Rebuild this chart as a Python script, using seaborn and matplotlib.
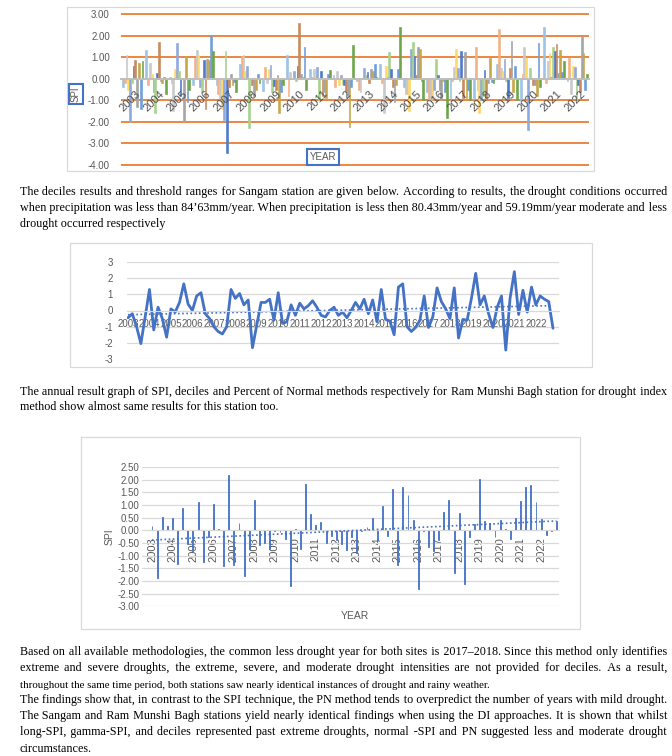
import numpy as np
import pandas as pd
import matplotlib
matplotlib.use("Agg")
import matplotlib.pyplot as plt
import seaborn as sns

W, H = 672, 756

years = [str(y) for y in range(2003, 2023)]
months = ["Jan", "Feb", "Mar", "Apr", "May", "Jun",
          "Jul", "Aug", "Sep", "Oct", "Nov", "Dec"]
month_colors = ["#9DC3E6", "#F4B183", "#C9C9C9", "#FFD966", "#8FAADC", "#A9D18E",
                "#4F7BC8", "#C98A5E", "#A5A5A5", "#C7A64A", "#6F9FD8", "#6FA64C"]

# Sangam station, monthly SPI (one row per year, Jan..Dec)
sangam_monthly = [
    [-0.4, -0.2, 1.1, -0.5, -2.0, -0.2, 0.6, 0.85, -1.3, 0.75, -1.4, 0.8],    # 2003
    [1.35, -0.3, 0.75, 0.2, -0.6, -1.6, 0.25, 1.7, -0.1, -0.2, 0.1, -0.7],    # 2004
    [0.1, -0.2, -1.5, 0.45, 1.65, 0.35, -0.8, 0.05, -1.95, 1.05, -1.1, -0.5],  # 2005
    [-0.3, 0.95, 1.35, 1.1, -0.4, -0.6, 0.85, -1.4, 0.9, 0.85, 2.0, 1.3],     # 2006
    [-0.3, -0.7, -0.9, -1.4, -1.9, 1.3, -3.45, -0.4, 0.2, -0.3, -0.15, -0.6],  # 2007
    [0.7, 1.05, 1.1, 0.35, 0.6, -2.3, 0.05, -0.3, -0.8, -0.5, 0.2, -0.2],     # 2008
    [-0.55, 0.55, -0.2, 0.45, 0.65, -0.6, -0.35, -0.5, 0.15, -1.6, -0.6, -0.3],  # 2009
    [1.1, -0.8, 0.3, 0.05, 0.35, -0.1, 0.6, 2.6, 0.2, 0.1, 1.45, -0.5],       # 2010
    [0.45, 0.1, 0.45, 0.25, 0.55, -1.0, 0.35, -0.8, -0.6, -0.9, 0.2, 0.4],    # 2011
    [0.15, -0.4, 0.35, -0.3, 0.15, -0.25, -0.3, -0.55, -0.8, -2.25, -0.4, 1.55],  # 2012
    [-0.1, -0.5, -0.6, 0.05, 0.5, 0.15, 0.3, -0.2, 0.45, 0.35, 0.7, 0.1],     # 2013
    [0.7, -0.2, -1.6, 0.6, 0.1, 1.25, 0.45, -0.4, -1.1, -0.3, 0.45, 2.4],     # 2014
    [-0.4, -0.7, -0.7, -1.5, 1.4, 1.7, 1.05, 0.15, 1.45, 1.4, -0.1, -1.0],    # 2015
    [-0.6, -1.0, -1.0, -0.9, -0.5, 0.9, 0.15, -0.5, -1.0, -0.1, -0.6, -1.8],  # 2016
    [-0.9, -0.1, 0.55, 1.4, 0.5, -0.1, 1.3, -0.9, 1.25, -0.9, -0.5, -1.0],    # 2017
    [-0.95, 1.45, -0.5, -1.6, -1.0, -0.8, 0.4, -1.0, -0.2, 0.95, -0.15, -0.2],  # 2018
    [0.7, 2.3, 0.5, 0.35, 0.9, -0.1, -0.9, 0.5, 1.75, -0.6, 0.6, -1.0],       # 2019
    [-1.0, 0.2, 1.45, 0.95, -2.4, 0.5, 0.05, -0.3, -0.3, -0.8, 1.65, -0.4],   # 2020
    [2.4, -0.2, 0.8, 1.2, 0.1, 1.45, 1.3, 1.6, 0.25, 1.35, 0.3, 0.8],         # 2021
    [-0.1, 0.95, -0.7, 0.6, 0.55, -1.0, -0.3, -0.6, 2.0, 1.2, -0.5, 0.2],     # 2022
]

# Sangam station, SPI line (5 values per year)
sangam_spi = [
    -0.45, -0.2, -1.0, -2.05, -0.4, 1.3, -1.2, 0.2, -0.5, -1.65,
    0.1, -0.1, 0.5, 1.65, 0.4, 0.0, 0.9, 1.1, -0.2, -0.5,
    -1.0, -1.3, -1.45, -1.0, 1.3, 0.75, 1.05, 0.35, 0.65, -2.3,
    -0.9, 0.5, 0.5, 0.7, -0.6, 1.1, -0.8, -0.7, 0.35, -0.3,
    0.45, 0.1, 0.3, 0.6, 0.2, -0.3, -0.4, 0.0, 0.2, -0.3,
    -0.1, -0.45, 0.0, 0.5, 0.1, 0.7, -0.2, 0.65, -0.7, 1.3,
    -0.55, -0.65, -1.5, 1.45, 1.65, -1.0, -1.3, -1.05, -0.6, 0.9,
    -1.05, -0.4, 1.4, 0.55, 0.1, -0.5, 1.4, -1.7, -0.55, -0.6,
    0.75, 2.3, 0.35, 0.9, -0.2, -1.05, 0.2, 0.9, -2.45, 0.75,
    2.4, -0.25, 1.25, -0.1, 1.45, 0.35, 0.9, 0.7, 0.55, -1.1,
]

# Ram Munshi Bagh station, quarterly SPI
rmb_spi = [
    0.17, -1.9, 0.52, 0.17, 0.47, -1.33, 0.88, -0.55, -0.8, 1.12,
    -1.27, -0.25, 1.02, 0.04, -1.42, 2.17, -1.38, 0.27, -1.82, -0.75,
    1.2, -0.58, -0.5, -0.75, -0.04, -0.08, -0.33, -2.2, 0.04, -0.72,
    1.82, 0.65, 0.2, 0.33, -0.5, -0.22, -0.38, -0.55, -0.77, -0.28,
    -0.9, -0.03, 0.12, 0.47, -0.38, 0.96, -0.22, 1.63, -1.37, 1.7,
    1.39, 0.4, -2.3, -0.02, -0.64, -0.8, -0.4, 0.72, 1.2, -1.7,
    0.7, -2.1, -0.25, 0.25, 2.02, 0.37, 0.28, -0.25, 0.4, 0.06,
    -0.33, 0.48, 1.17, 1.7, 1.78, 1.13, 0.43, -0.2, -0.04, 0.37,
]

para1 = [
    "The deciles results and threshold ranges for Sangam station are given below. According to results, the drought conditions occurred",
    "when precipitation was less than 84\u201963mm/year. When precipitation is less then 80.43mm/year and 59.19mm/year moderate and less",
    "drought occurred respectively",
]
para2 = [
    "The annual result graph of SPI, deciles and Percent of Normal methods respectively for Ram Munshi Bagh station for drought index",
    "method show almost same results for this station too.",
]
para3 = [
    "Based on all available methodologies, the common less drought year for both sites is 2017\u20132018. Since this method only identifies",
    "extreme and severe droughts, the extreme, severe, and moderate drought intensities are not provided for deciles. As a result,",
    "throughout the same time period, both stations saw nearly identical instances of drought and rainy weather.",
    "The findings show that, in contrast to the SPI technique, the PN method tends to overpredict the number of years with mild drought.",
    "The Sangam and Ram Munshi Bagh stations yield nearly identical findings when using the DI approaches. It is shown that whilst",
    "long-SPI, gamma-SPI, and deciles represented past extreme droughts, normal -SPI and PN suggested less and moderate drought",
    "circumstances.",
]

sns.set_style("white")
plt.rcParams["font.family"] = ["Liberation Sans", "DejaVu Sans"]

GRAY_TXT = "#595959"
BLUE = "#4472C4"


def box(l, t, r, b):
    return [l / W, 1 - b / H, (r - l) / W, (b - t) / H]


def frame(l, t, r, b):
    fig.add_artist(plt.Rectangle((l / W, 1 - b / H), (r - l) / W, (b - t) / H,
                                 transform=fig.transFigure, fill=False,
                                 ec="#D9D9D9", lw=0.9))


def clean(ax):
    for s in ["top", "right", "left"]:
        ax.spines[s].set_visible(False)
    ax.tick_params(length=0, colors=GRAY_TXT)


fig = plt.figure(figsize=(W / 100, H / 100), dpi=100)

# ---- chart 1: Sangam monthly SPI -----------------------------------------
frame(67, 7, 594, 171)
ax1 = fig.add_axes(box(121, 12.9, 589, 166.1))
df1 = pd.DataFrame([(y, m, v) for y, row in zip(years, sangam_monthly)
                    for m, v in zip(months, row)], columns=["year", "month", "spi"])
sns.barplot(data=df1, x="year", y="spi", hue="month", palette=month_colors,
            width=0.92, errorbar=None, legend=False, ax=ax1, zorder=2,
            saturation=1)
for p in ax1.patches:
    p.set_edgecolor(p.get_facecolor())
    p.set_linewidth(0.45)
ax1.set_ylim(-4.05, 3.05)
ax1.set_xlim(-0.5, 19.5)
ax1.set_yticks(range(-4, 4))
ax1.set_yticklabels([f"{v:.2f}" for v in range(-4, 4)], fontsize=7)
ax1.yaxis.grid(True, color="#ED7D31", lw=1.3)
ax1.set_axisbelow(True)
clean(ax1)
ax1.spines["bottom"].set_position(("data", 0))
ax1.spines["bottom"].set_color("#BFBFBF")
ax1.spines["bottom"].set_linewidth(1.4)
ax1.spines["bottom"].set_zorder(3)
ax1.tick_params(axis="y", pad=8)
ax1.set_xticks(range(len(years)))
ax1.set_xticklabels([])
ax1.set_xlabel("")
ax1.set_ylabel("")
# year labels drawn on top of the bars, as in the spreadsheet chart
for i, yr in enumerate(years):
    ax1.annotate(yr, (i, 0), xytext=(2, -7), textcoords="offset points",
                 rotation=45, ha="right", va="top", rotation_mode="anchor",
                 fontsize=8, color="#4D4D4D", zorder=6)
fig.text(76 / W, 1 - 94 / H, "SPI", rotation=90, ha="center", va="center",
         fontsize=7, color=GRAY_TXT,
         bbox=dict(boxstyle="square,pad=0.25", fc="white", ec=BLUE, lw=1.5))
fig.text(323 / W, 1 - 157 / H, "YEAR", ha="center", va="center",
         fontsize=7, color=GRAY_TXT,
         bbox=dict(boxstyle="square,pad=0.3", fc="white", ec=BLUE, lw=1.5))

# ---- chart 2: Sangam SPI line ---------------------------------------------
frame(70, 243, 592, 367)
ax2 = fig.add_axes(box(127, 262, 559, 359))
x2 = np.arange(len(sangam_spi))
sns.lineplot(x=x2, y=sangam_spi, color=BLUE, lw=2, ax=ax2)
fit2 = np.polyfit(x2, sangam_spi, 1)
ax2.plot(x2, np.polyval(fit2, x2), color=BLUE, lw=1.2, ls=(0, (1, 1.5)))
ax2.set_xlim(-0.23, 100.4)
ax2.set_ylim(-3, 3)
ax2.set_yticks(range(-3, 4))
ax2.set_yticklabels([str(v) for v in range(-3, 4)], fontsize=7)
ax2.yaxis.grid(True, color="#D9D9D9", lw=0.9)
ax2.set_axisbelow(True)
clean(ax2)
ax2.spines["bottom"].set_position(("data", 0))
ax2.spines["bottom"].set_color("#D9D9D9")
ax2.tick_params(axis="y", pad=10)
ax2.tick_params(axis="x", pad=6)
ax2.set_xticks(np.arange(0, len(sangam_spi), 5))
ax2.set_xticklabels(years, fontsize=7)

# ---- chart 3: Ram Munshi Bagh SPI bars -----------------------------------
frame(81, 437, 580, 629)
ax3 = fig.add_axes(box(142, 467, 559, 606.3))
x3 = np.arange(len(rmb_spi))
sns.barplot(x=x3, y=rmb_spi, color=BLUE, width=0.18, saturation=1,
            errorbar=None, ax=ax3, zorder=2, edgecolor=BLUE, linewidth=0.6)
fit3 = np.polyfit(x3, rmb_spi, 1)
ax3.plot(x3, np.polyval(fit3, x3), color=BLUE, lw=1.2, ls=(0, (1, 1.5)), zorder=3)
ax3.set_xlim(-1.95, 79.5)
ax3.set_ylim(-3, 2.5)
yt3 = np.arange(-3, 2.51, 0.5)
ax3.set_yticks(yt3)
ax3.set_yticklabels([f"{v:.2f}" for v in yt3], fontsize=7)
ax3.yaxis.grid(True, color="#D9D9D9", lw=0.9)
ax3.set_axisbelow(True)
clean(ax3)
ax3.spines["bottom"].set_position(("data", 0))
ax3.spines["bottom"].set_color("#D9D9D9")
ax3.tick_params(axis="y", pad=2)
ax3.tick_params(axis="x", pad=5)
ax3.set_xticks(np.arange(0, len(rmb_spi), 4))
ax3.set_xticklabels(years, rotation=90, fontsize=8, va="top", ha="center")
fig.text(110 / W, 1 - 537 / H, "SPI", rotation=90, ha="center", va="center",
         fontsize=7.5, color=GRAY_TXT)
fig.text(355 / W, 1 - 616 / H, "YEAR", ha="center", va="center",
         fontsize=7.5, color=GRAY_TXT)

# ---- body text --------------------------------------------------------------
# one Text per line; justified lines get extra hair spaces spread over the gaps
BODY = 8.7
L, R = 20, 667
SERIF = ["Liberation Serif", "DejaVu Serif"]
HAIR = "\u200a"
renderer = fig.canvas.get_renderer()


def width_of(s, size):
    t = fig.text(0, 0, s, fontsize=size, family=SERIF)
    w = t.get_window_extent(renderer).width
    t.remove()
    return w


def text_line(line, yc, justify, size=BODY):
    s = line
    words = line.split(" ")
    if justify and len(words) > 1:
        extra = (R - L) - width_of(line, size)
        hair_w = width_of("a" + HAIR * 10 + "a", size) - width_of("aa", size)
        total = max(0, int(round(extra / (hair_w / 10))))
        n = len(words) - 1
        parts = [words[0]]
        for i in range(n):
            k = (i + 1) * total // n - i * total // n
            parts.append(" " + HAIR * k + words[i + 1])
        s = "".join(parts)
    fig.text(L / W, 1 - (yc + 3.5) / H, s, fontsize=size, va="baseline",
             family=SERIF, color="black")


for lines, ys, ragged in [(para1, [191, 208, 224], {2}),
                          (para2, [391, 407], {1}),
                          (para3, [652, 668, 684, 700, 716, 732, 748], {2, 6})]:
    for k, (ln, yc) in enumerate(zip(lines, ys)):
        condensed = lines is para3 and k == 2
        text_line(ln, yc, k not in ragged, size=7.8 if condensed else BODY)

fig.savefig("out.png", dpi=100)
